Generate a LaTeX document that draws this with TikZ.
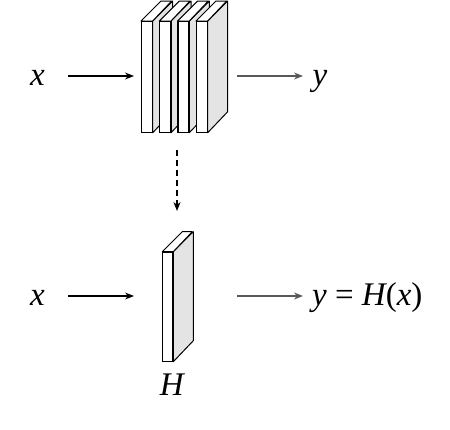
\documentclass[tikz,border=0pt]{standalone}
\usepackage{fontspec}
\setmainfont{Liberation Serif}
\usetikzlibrary{arrows.meta}
\definecolor{sidegray}{HTML}{E4E4E4}
\begin{document}
\begin{tikzpicture}[x=1pt,y=-1pt,
  lbl/.style={font=\fontsize{33}{39}\selectfont, inner sep=0pt, anchor=base},
  front/.style={draw, fill=white, line width=1pt, rectangle, inner sep=0pt, anchor=north west},
  face/.style={draw, line width=1pt, line join=round},
  arr/.style={-{Stealth[length=9pt,width=7pt]}, line width=1.1pt},
  garr/.style={arr, draw=black!65, color=black!65},
  darr/.style={arr, line width=1.6pt, dash pattern=on 6pt off 4pt}]
\useasboundingbox (0,0) rectangle (450,429);
% top stack of slabs
\foreach \i/\xl in {1/141,2/159.3,3/177.6,4/196}{
  \node[front, minimum width=10.7pt, minimum height=110.7pt] (s\i) at (\xl,21) {};
  \draw[face, fill=sidegray] (s\i.north east) -- ++(20,-20) -- ++(0,110.7) -- (s\i.south east) -- cycle;
  \draw[face, fill=white] (s\i.north west) -- ++(20,-20) -- ++(10.7,0) -- (s\i.north east) -- cycle;
  \draw[line width=1pt] (s\i.north west) rectangle (s\i.south east);
}
% bottom slab
\node[front, minimum width=10pt, minimum height=109pt] (h) at (162.3,251.7) {};
\draw[face, fill=sidegray] (h.north east) -- ++(20,-20) -- ++(0,109) -- (h.south east) -- cycle;
\draw[face, fill=white] (h.north west) -- ++(20,-20) -- ++(10,0) -- (h.north east) -- cycle;
% labels
\node[lbl] (x1) at (37.5,85) {\itshape x};
\node[lbl] (y1) at (320,85) {\itshape y};
\node[lbl] (x2) at (37.5,305) {\itshape x};
\node[lbl, anchor=base west] (y2) at (312,305) {\itshape y\/\hspace{0.25em}\upshape=\hspace{0.25em}\itshape H\upshape(\itshape x\/\upshape)};
\node[lbl] (hl) at (171.7,395) {\itshape H};
% arrow end points
\coordinate (a1s) at (68,76);
\coordinate (a1e) at (134,76);
\coordinate (b1s) at (237,76);
\coordinate (b1e) at (303,76);
\coordinate (a2s) at (68,296);
\coordinate (a2e) at (134,296);
\coordinate (b2s) at (237,296);
\coordinate (b2e) at (303,296);
\coordinate (ds) at (177,150);
\coordinate (de) at (177,211);
\draw[arr] (a1s) -- (a1e);
\draw[garr] (b1s) -- (b1e);
\draw[arr] (a2s) -- (a2e);
\draw[garr] (b2s) -- (b2e);
\draw[darr] (ds) -- (de);
\end{tikzpicture}
\end{document}
